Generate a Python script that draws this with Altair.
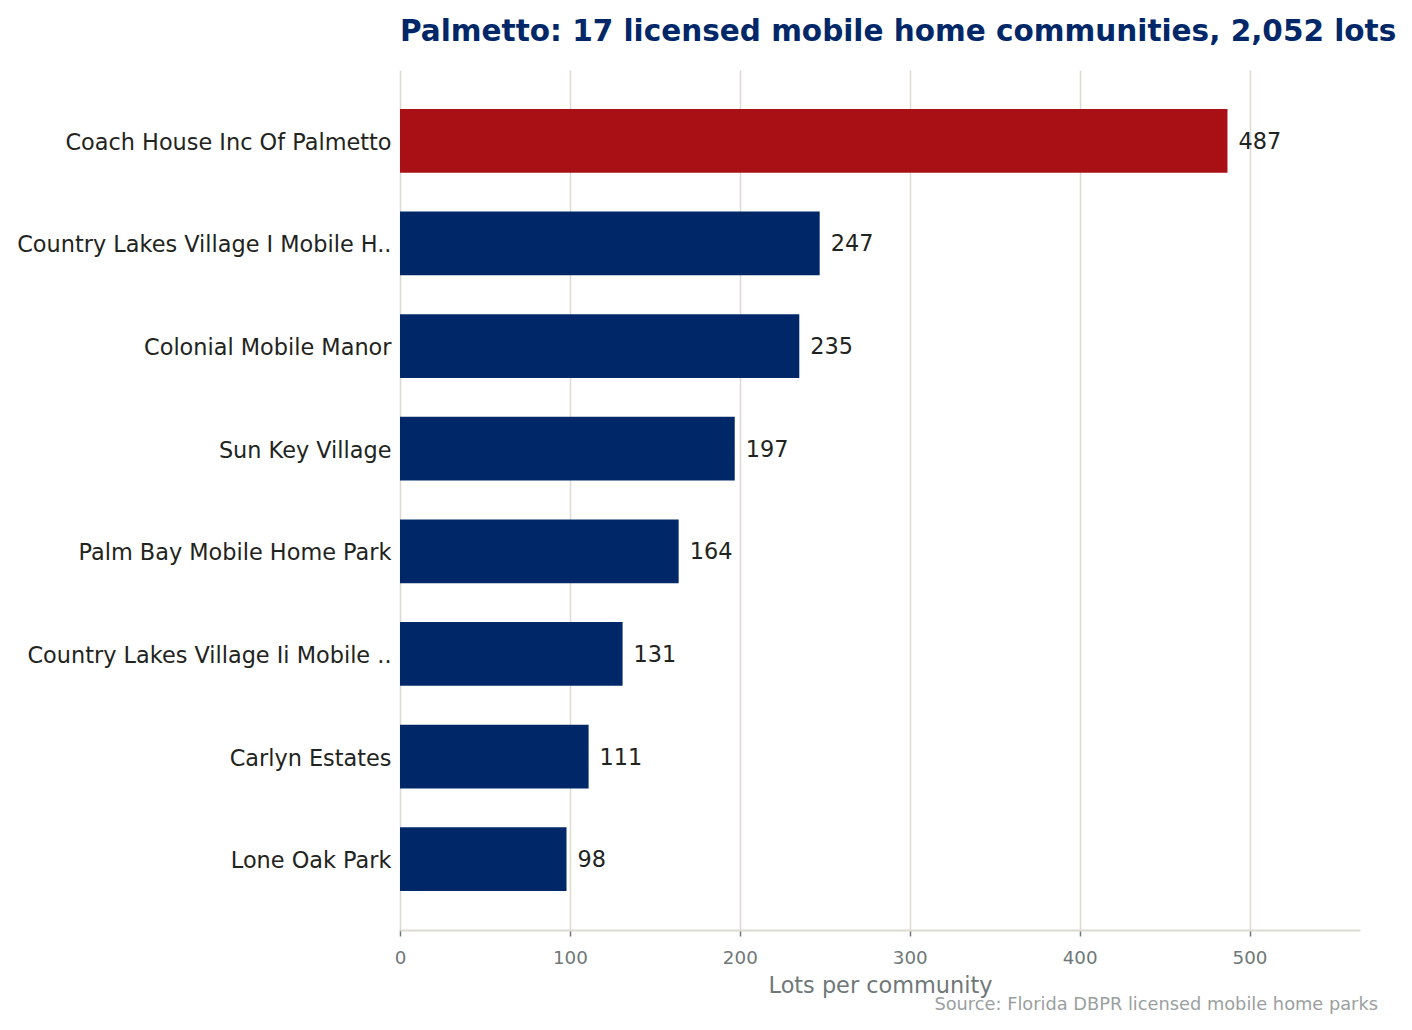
import altair as alt
import pandas as pd

names = [
    "Coach House Inc Of Palmetto",
    "Country Lakes Village I Mobile H..",
    "Colonial Mobile Manor",
    "Sun Key Village",
    "Palm Bay Mobile Home Park",
    "Country Lakes Village Ii Mobile ..",
    "Carlyn Estates",
    "Lone Oak Park",
]
lots = [487, 247, 235, 197, 164, 131, 111, 98]
highlight = [True, False, False, False, False, False, False, False]
x_ticks = [0, 100, 200, 300, 400, 500]
title_text = "Palmetto: 17 licensed mobile home communities, 2,052 lots"
source_text = "Source: Florida DBPR licensed mobile home parks"

df = pd.DataFrame({"name": names, "lots": lots, "hl": highlight})

FONT = "DejaVu Sans"

y_enc = alt.Y(
    "name:N",
    sort=names,
    title=None,
    scale=alt.Scale(paddingInner=0.38, paddingOuter=0.38),
    axis=alt.Axis(
        domain=False,
        ticks=False,
        labelFontSize=22.4,
        labelColor="#1f2421",
        labelFont=FONT,
        labelPadding=9,
        labelOffset=2,
        labelLimit=500,
        grid=False,
    ),
)

x_enc = alt.X(
    "lots:Q",
    title="Lots per community",
    scale=alt.Scale(domain=[0, 565], nice=False),
    axis=alt.Axis(
        values=x_ticks,
        grid=True,
        gridColor="#dedad2",
        gridWidth=1.5,
        domainColor="#dedad2",
        domainWidth=2,
        tickColor="#6f7878",
        tickSize=6,
        tickWidth=1.5,
        labelColor="#6f7878",
        labelFontSize=18.3,
        labelFont=FONT,
        labelPadding=13,
        labelFlush=False,
        titleColor="#6f7878",
        titleFontSize=22.4,
        titleFont=FONT,
        titleFontWeight="normal",
        titlePadding=8,
    ),
)

bars = alt.Chart(df).mark_bar().encode(
    y=y_enc,
    x=x_enc,
    color=alt.condition(alt.datum.hl, alt.value("#a81016"), alt.value("#002868")),
)

labels = alt.Chart(df).mark_text(
    align="left", baseline="middle", dx=11, dy=1, fontSize=22.4, font=FONT, color="#1f2421"
).encode(
    y=alt.Y("name:N", sort=names),
    x="lots:Q",
    text="lots:Q",
)

source = alt.Chart(pd.DataFrame({"t": [source_text]})).mark_text(
    align="right", baseline="middle", fontSize=17.8, font=FONT, color="#9aa0a0"
).encode(
    x=alt.value(978),
    y=alt.value(935),
    text="t:N",
)

chart = alt.layer(bars, labels, source).properties(
    width=960,
    height=860,
    padding={"left": 392, "top": 62, "right": 44, "bottom": 90},
    autosize=alt.AutoSizeParams(type="none"),
    title=alt.TitleParams(
        title_text,
        anchor="start",
        frame="group",
        font=FONT,
        fontSize=29.5,
        fontWeight="bold",
        color="#002868",
        offset=23,
    ),
).configure_view(stroke=None)

chart.save("out.html", embed_options={"renderer": "svg", "actions": False})
